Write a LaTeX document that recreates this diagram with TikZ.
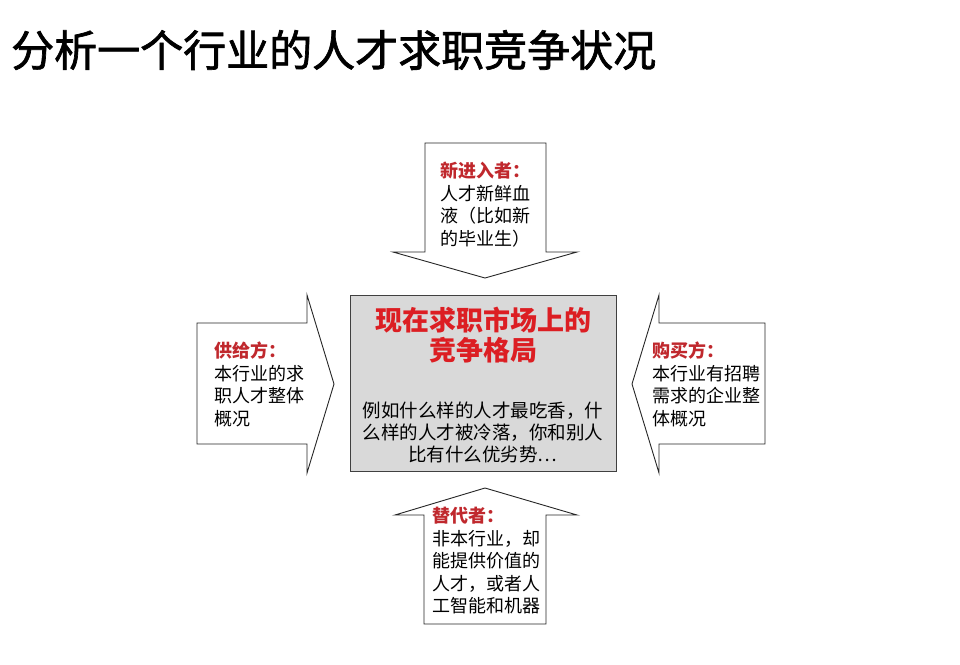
\documentclass[tikz,border=0pt]{standalone}
\usepackage{fontspec}
\setmainfont{Noto Sans CJK SC}
\newfontfamily\ttlfont[FakeBold=1.6]{Noto Sans CJK SC}
\definecolor{lblred}{RGB}{192,40,45}
\definecolor{ttlred}{RGB}{220,30,35}
\definecolor{boxgray}{RGB}{217,217,217}
\begin{document}
\begin{tikzpicture}[x=1pt,y=-1pt,
  arrowshape/.style={draw=black!85,line width=0.9pt,fill=white,line join=miter},
  lbl/.style={anchor=north west,inner sep=0pt,align=left,font=\fontsize{18}{22.5}\selectfont},
  hd/.style={text=lblred,font=\bfseries}]
\useasboundingbox (0,0) rectangle (960,664);
% title
\node[anchor=west,inner sep=0pt,font=\ttlfont\fontsize{43}{50}\selectfont] (title) at (11,50) {分析一个行业的人才求职竞争状况};
% arrows
\draw[arrowshape] (425,143) -- (546,143) -- (546,252) -- (577,252) -- (485,278) -- (393,252) -- (425,252) -- cycle;
\draw[arrowshape] (197,323) -- (307,323) -- (307,295) -- (334,384) -- (307,473) -- (307,444) -- (197,444) -- cycle;
\draw[arrowshape] (765,323) -- (659,323) -- (659,295) -- (632,384) -- (659,473) -- (659,444) -- (765,444) -- cycle;
\draw[arrowshape] (424,624) -- (424,515) -- (395,515) -- (485,488) -- (577,515) -- (546,515) -- (546,624) -- cycle;
% centre box
\node[draw=black!75,line width=1pt,fill=boxgray,minimum width=266pt,minimum height=176pt,inner sep=0pt] (center) at (483,383) {};
\node[align=center,inner sep=0pt,text=ttlred,font=\fontsize{27}{30}\selectfont\bfseries] (ctitle) at (483,335) {现在求职市场上的\\竞争格局};
\node[align=center,inner sep=0pt,font=\fontsize{18.5}{22}\selectfont] (cbody) at (483,432) {例如什么样的人才最吃香，什\\么样的人才被冷落，你和别人\\比有什么优劣势…};
% labels
\node[lbl] (newcomer) at (440,162) {{\color{lblred}\bfseries 新进入者：}\\人才新鲜血\\液（比如新\\的毕业生）};
\node[lbl] (supply) at (214,342) {{\color{lblred}\bfseries 供给方：}\\本行业的求\\职人才整体\\概况};
\node[lbl] (buyer) at (652,342) {{\color{lblred}\bfseries 购买方：}\\本行业有招聘\\需求的企业整\\体概况};
\node[lbl] (subst) at (432,507) {{\color{lblred}\bfseries 替代者：}\\非本行业，却\\能提供价值的\\人才，或者人\\工智能和机器};
\end{tikzpicture}
\end{document}
